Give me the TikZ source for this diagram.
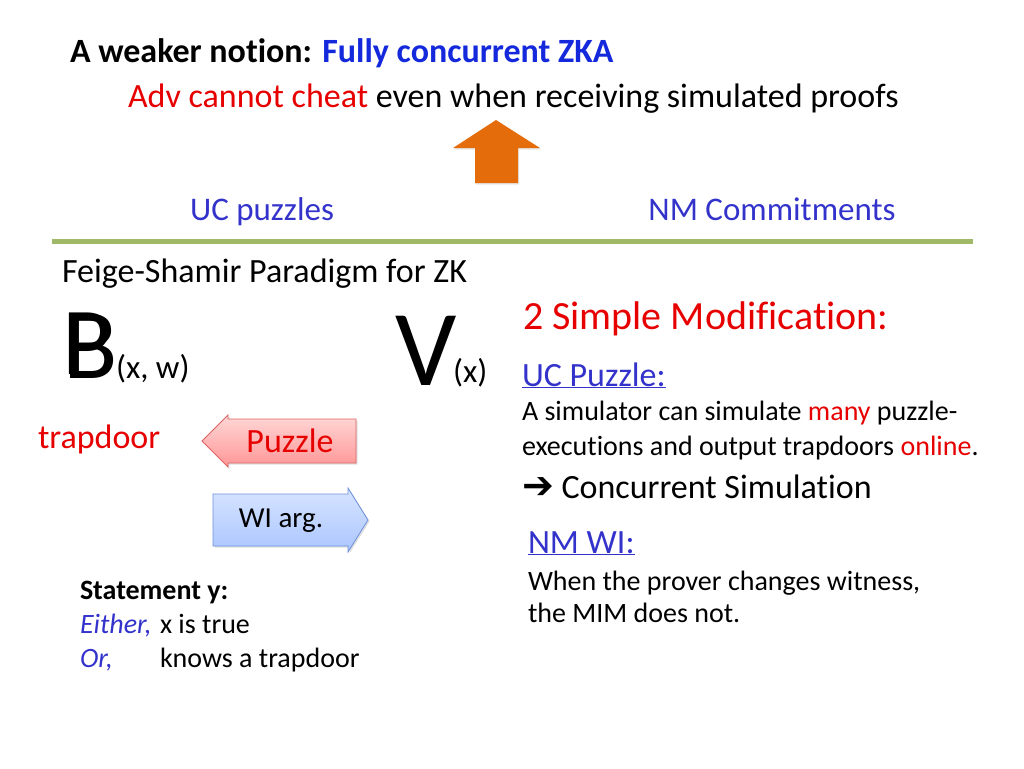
\documentclass[tikz,border=0pt]{standalone}
\usepackage{fontspec}
\setmainfont{Carlito}[Ligatures=NoCommon]
\newfontfamily\dejavu{DejaVu Sans}
\usetikzlibrary{shapes.arrows,shadows}
\definecolor{ublue}{RGB}{51,51,204}
\definecolor{tblue}{RGB}{20,40,220}
\definecolor{ured}{RGB}{230,0,0}
\definecolor{uorange}{RGB}{228,108,10}
\definecolor{ugreen}{RGB}{160,185,105}
\newcommand{\fsz}[1]{\fontsize{#1}{#1}\selectfont}
\tikzset{
  txt/.style={anchor=base west, inner sep=0pt, outer sep=0pt},
  ctxt/.style={anchor=base, inner sep=0pt, outer sep=0pt},
  pinkarrow/.style={draw={rgb,255:red,220;green,100;blue,100}, line width=0.8pt, top color={rgb,255:red,255;green,215;blue,215}, bottom color={rgb,255:red,255;green,150;blue,150}, drop shadow={opacity=0.25, shadow xshift=1.5pt, shadow yshift=-1.5pt}},
  bluearrow/.style={draw={rgb,255:red,110;green,145;blue,220}, line width=0.8pt, top color={rgb,255:red,215;green,228;blue,255}, bottom color={rgb,255:red,170;green,198;blue,255}, drop shadow={opacity=0.25, shadow xshift=1.5pt, shadow yshift=-1.5pt}},
}
\begin{document}
\begin{tikzpicture}[x=1pt,y=-1pt]
\useasboundingbox (0,0) rectangle (1024,768);
% top
\node[txt] (title) at (70,63) {\fsz{34}\bfseries A weaker notion: \textcolor{tblue}{Fully concurrent ZKA}};
\node[txt] (adv) at (128,107) {\fsz{34}\textcolor{ured}{Adv cannot cheat} even when receiving simulated proofs};
% orange up arrow
\fill[uorange, drop shadow={opacity=0.2, shadow xshift=1pt, shadow yshift=-1.5pt}] (496,120) -- (540,148) -- (518,148) -- (518,183) -- (475,183) -- (475,148) -- (453,148) -- cycle;
\node[ctxt, text=ublue] (ucp) at (262,220) {\fsz{33}UC puzzles};
\node[ctxt, text=ublue] (nmc) at (772,220) {\fsz{33}NM Commitments};
% green line
\coordinate (gl) at (52,241);
\coordinate (gr) at (973,241);
\draw[line width=5pt, ugreen, drop shadow={opacity=0.15, shadow xshift=0pt, shadow yshift=-2pt}] (gl) -- (gr);
% left side
\node[txt] (fs) at (62,282) {\fsz{34}Feige-Shamir Paradigm for ZK};
\node[txt] (Pbig) at (62,374) {\fsz{96}P};
\node[txt] (Bbig) at (63,378) {\fsz{100}B};
\node[txt] (xw) at (116,378) {\fsz{33}(x, w)};
\node[txt] (Vbig) at (395,385) {\fsz{108}V};
\node[txt] (xx) at (453,382) {\fsz{33}(x)};
\node[txt, text=ured] (trap) at (38,448) {\fsz{34}trapdoor};
% puzzle arrow (left)
\path[pinkarrow] (202,441) -- (228,415) -- (228,419) -- (356,419) -- (356,463) -- (228,463) -- (228,467) -- cycle;
\node[text=ured] (puz) at (290,441) {\fsz{34}Puzzle};
% WI arrow (right)
\path[bluearrow] (368,520) -- (348,488) -- (348,494) -- (213,494) -- (213,546) -- (348,546) -- (348,552) -- cycle;
\node (wi) at (281,521) {\fsz{29}WI arg.};
% statement
\node[txt] (st) at (80,599) {\fsz{28}\bfseries Statement y:};
\node[txt, text=ublue] (ei) at (80,633) {\fsz{28}\itshape Either,};
\node[txt] (xt) at (160,633) {\fsz{28}x is true};
\node[txt, text=ublue] (or) at (80,667) {\fsz{28}\itshape Or,};
\node[txt] (kt) at (160,667) {\fsz{28}knows a trapdoor};
% right side
\node[txt, text=ured] (mod) at (523,329) {\fsz{40}2 Simple Modification:};
\node[txt, text=ublue] (ucpz) at (522,386) {\fsz{34}\underline{UC Puzzle:}};
\node[txt] (s1) at (522,420) {\fsz{28}A simulator can simulate \textcolor{ured}{many} puzzle-};
\node[txt] (s2) at (522,455) {\fsz{28}executions and output trapdoors \textcolor{ured}{online}.};
\node[txt] (cs) at (522,498) {{\dejavu\bfseries\fsz{38}\char"2794}\fsz{34}\ Concurrent Simulation};
\node[txt, text=ublue] (nmwi) at (528,553) {\fsz{34}\underline{NM WI:}};
\node[txt] (w1) at (528,590) {\fsz{28}When the prover changes witness,};
\node[txt] (w2) at (528,622) {\fsz{28}the MIM does not.};
\end{tikzpicture}
\end{document}
